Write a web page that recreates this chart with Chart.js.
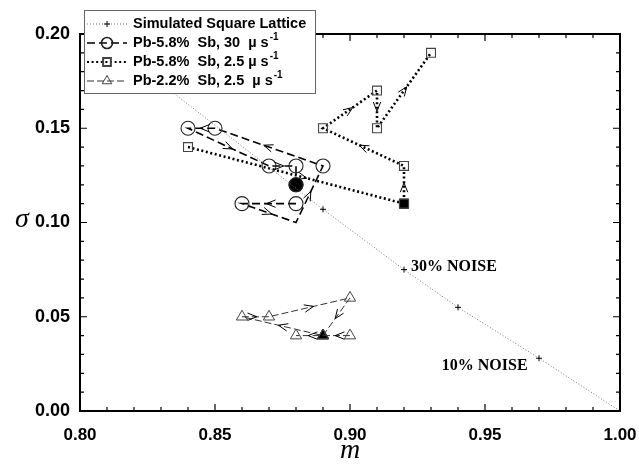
<!DOCTYPE html>
<html><head><meta charset="utf-8">
<style>html,body{margin:0;padding:0;background:#fff;}#wrap{width:639px;height:466px;}</style>
<script src="https://cdn.jsdelivr.net/npm/chart.js@4.4.0/dist/chart.umd.min.js"></script>
</head><body><div id="wrap"><canvas id="c" width="639" height="466"></canvas></div>
<script>
// ---- data ----
const latticeM = [0.82, 0.89, 0.92, 0.94, 0.97, 1.00];
const latticeS = [0.185, 0.107, 0.075, 0.055, 0.028, 0.000];

const fast58M = [0.88, 0.86, 0.88, 0.89, 0.85, 0.84, 0.87, 0.88, 0.88];
const fast58S = [0.11, 0.11, 0.10, 0.13, 0.15, 0.15, 0.13, 0.13, 0.12];

const slow58M = [0.84, 0.92, 0.92, 0.89, 0.91, 0.91, 0.93];
const slow58S = [0.14, 0.11, 0.13, 0.15, 0.17, 0.15, 0.19];

const slow22M = [0.90, 0.89, 0.86, 0.87, 0.90, 0.89, 0.88];
const slow22S = [0.04, 0.04, 0.05, 0.05, 0.06, 0.04, 0.04];

const filledCircleM = [0.88], filledCircleS = [0.12];
const filledSquareM = [0.92], filledSquareS = [0.11];
const filledTriM = [0.89], filledTriS = [0.04];

const seriesLabels = ['Simulated Square Lattice', 'Pb-5.8%  Sb, 30  \u00b5 s^-1', 'Pb-5.8%  Sb, 2.5 \u00b5 s^-1', 'Pb-2.2%  Sb, 2.5  \u00b5 s^-1'];
const noiseLabels = ['30% NOISE', '10% NOISE'];
const xMin = 0.80, xMax = 1.00, yMin = 0.00, yMax = 0.20;

const pts = (ms, ss) => ms.map((m, i) => ({x: m, y: ss[i]}));
const isMajor = v => Math.abs(Math.round(v * 100) % 5) === 0;

const deco = {
  id: 'deco',
  afterDatasetsDraw(chart) {
    const c = chart.ctx, a = chart.chartArea;
    const xs = chart.scales.x, ys = chart.scales.y;
    c.save();
    // arrows
    chart.data.datasets.forEach((ds, di) => {
      if (!ds.arrows) return;
      const meta = chart.getDatasetMeta(di);
      for (let i = 0; i < meta.data.length - 1; i++) {
        const p0 = meta.data[i], p1 = meta.data[i + 1];
        const dx = p1.x - p0.x, dy = p1.y - p0.y, L = Math.hypot(dx, dy);
        if (L < 22) continue;
        const ang = Math.atan2(dy, dx);
        const mx = p0.x + dx * 0.55, my = p0.y + dy * 0.55;
        c.setLineDash([]); c.lineWidth = 1; c.strokeStyle = '#000';
        c.beginPath();
        for (const s of [-1, 1]) {
          c.moveTo(mx, my);
          c.lineTo(mx - 10 * Math.cos(ang + s * 0.38), my - 10 * Math.sin(ang + s * 0.38));
        }
        c.stroke();
      }
    });
    // frame
    c.setLineDash([]);
    c.strokeStyle = '#000'; c.lineWidth = 2;
    c.strokeRect(a.left, a.top, a.right - a.left, a.bottom - a.top);
    // inward ticks
    c.lineWidth = 1.2;
    c.beginPath();
    xs.ticks.forEach(t => {
      const px = xs.getPixelForValue(t.value), len = isMajor(t.value) ? 7 : 4;
      c.moveTo(px, a.bottom); c.lineTo(px, a.bottom - len);
      c.moveTo(px, a.top); c.lineTo(px, a.top + len);
    });
    ys.ticks.forEach(t => {
      const py = ys.getPixelForValue(t.value), len = isMajor(t.value) ? 7 : 4;
      c.moveTo(a.left, py); c.lineTo(a.left + len, py);
      c.moveTo(a.right, py); c.lineTo(a.right - len, py);
    });
    c.stroke();
    // axis titles
    c.fillStyle = '#000';
    c.font = 'italic 28px "Liberation Serif"';
    c.textAlign = 'center'; c.textBaseline = 'middle';
    c.fillText('\u03c3', 22, 220);
    c.textBaseline = 'alphabetic';
    c.fillText('m', (a.left + a.right) / 2, 458);
    // noise annotations
    c.font = 'bold 16px "Liberation Serif"';
    c.textAlign = 'left'; c.textBaseline = 'middle';
    c.fillText(noiseLabels[0], xs.getPixelForValue(0.9226), ys.getPixelForValue(0.0765));
    c.fillText(noiseLabels[1], xs.getPixelForValue(0.934), ys.getPixelForValue(0.0238));
    // legend
    const bx = 84, by = 10, bw = 231, bh = 83;
    c.fillStyle = '#fff';
    c.fillRect(bx, by, bw, bh);
    c.strokeStyle = '#666'; c.lineWidth = 1;
    c.strokeRect(bx + 0.5, by + 0.5, bw, bh);
    for (let i = 0; i < 4; i++) {
      const ds = chart.data.datasets[i];
      const yy = 24 + 19 * i;
      c.save();
      c.strokeStyle = ds.borderColor; c.lineWidth = Math.min(ds.borderWidth, 2);
      c.setLineDash(ds.borderDash || []);
      c.beginPath(); c.moveTo(87, yy); c.lineTo(127, yy); c.stroke();
      c.setLineDash([]);
      c.strokeStyle = ds.pointBorderColor; c.fillStyle = 'rgba(0,0,0,0)';
      Chart.helpers.drawPoint(c, {pointStyle: ds.pointStyle, radius: i === 0 ? 3 : 5.5, rotation: 0, borderWidth: 1}, 107, yy);
      c.restore();
      // text
      c.fillStyle = '#000';
      c.textAlign = 'left'; c.textBaseline = 'middle';
      const parts = ds.label.split('^');
      c.font = 'bold 14.5px "Liberation Sans"';
      c.fillText(parts[0], 133, yy);
      if (parts[1]) {
        const w = c.measureText(parts[0]).width;
        c.font = 'bold 10px "Liberation Sans"';
        c.fillText(parts[1], 133 + w + 1, yy - 6);
      }
    }
    c.restore();
  }
};

new Chart(document.getElementById('c'), {
  type: 'scatter',
  data: {
    datasets: [
      {label: seriesLabels[0], data: pts(latticeM, latticeS), showLine: true,
       borderColor: '#777', borderWidth: 1, borderDash: [1, 2],
       pointStyle: 'cross', pointRadius: ctx => (ctx.dataIndex === 0 || ctx.dataIndex === latticeM.length - 1) ? 0 : 3,
       pointBorderColor: '#000', pointBorderWidth: 1, pointBackgroundColor: 'rgba(0,0,0,0)'},
      {label: seriesLabels[1], data: pts(fast58M, fast58S), showLine: true, arrows: true,
       borderColor: '#000', borderWidth: 1.6, borderDash: [8, 4],
       pointStyle: 'circle', pointRadius: ctx => ctx.dataIndex === 2 ? 0 : 7,
       pointBorderColor: '#222', pointBorderWidth: 1.1, pointBackgroundColor: 'rgba(0,0,0,0)'},
      {label: seriesLabels[2], data: pts(slow58M, slow58S), showLine: true, arrows: true,
       borderColor: '#000', borderWidth: 2.6, borderDash: [2, 2.6],
       pointStyle: 'rect', pointRadius: 6.3,
       pointBorderColor: '#444', pointBorderWidth: 1.1, pointBackgroundColor: 'rgba(0,0,0,0)'},
      {label: seriesLabels[3], data: pts(slow22M, slow22S), showLine: true, arrows: true,
       borderColor: '#333', borderWidth: 1, borderDash: [7, 3],
       pointStyle: 'triangle', pointRadius: 6.5,
       pointBorderColor: '#444', pointBorderWidth: 1, pointBackgroundColor: 'rgba(0,0,0,0)'},
      {label: 'start-circle', data: pts(filledCircleM, filledCircleS), showLine: false,
       pointStyle: 'circle', pointRadius: 7, pointBackgroundColor: '#000', pointBorderColor: '#000'},
      {label: 'start-square', data: pts(filledSquareM, filledSquareS), showLine: false,
       pointStyle: 'rect', pointRadius: 6.5, pointBackgroundColor: '#000', pointBorderColor: '#000'},
      {label: 'start-tri', data: pts(filledTriM, filledTriS), showLine: false,
       pointStyle: 'triangle', pointRadius: 6.5, pointBackgroundColor: '#000', pointBorderColor: '#000'}
    ]
  },
  options: {
    responsive: false, animation: false, devicePixelRatio: 1,
    layout: {padding: {left: 0, top: 34, right: 19, bottom: 0}},
    plugins: {legend: {display: false}, tooltip: {enabled: false}},
    scales: {
      x: {type: 'linear', min: xMin, max: xMax,
          afterFit: s => { s.height = 55; s.paddingLeft = 0; s.paddingRight = 0; },
          grid: {display: false, drawTicks: false}, border: {display: false},
          ticks: {stepSize: 0.01, autoSkip: false, maxRotation: 0, padding: 14, color: '#000',
                  font: {family: 'Liberation Sans', size: 17, weight: 'bold'},
                  callback: v => isMajor(v) ? v.toFixed(2) : ''}},
      y: {type: 'linear', min: yMin, max: yMax,
          afterFit: s => { s.width = 80; s.paddingTop = 0; s.paddingBottom = 0; },
          grid: {display: false, drawTicks: false}, border: {display: false},
          ticks: {stepSize: 0.01, autoSkip: false, padding: 10, color: '#000',
                  font: {family: 'Liberation Sans', size: 18, weight: 'bold'},
                  callback: v => isMajor(v) ? v.toFixed(2) : ''}}
    }
  },
  plugins: [deco]
});
</script></body></html>
